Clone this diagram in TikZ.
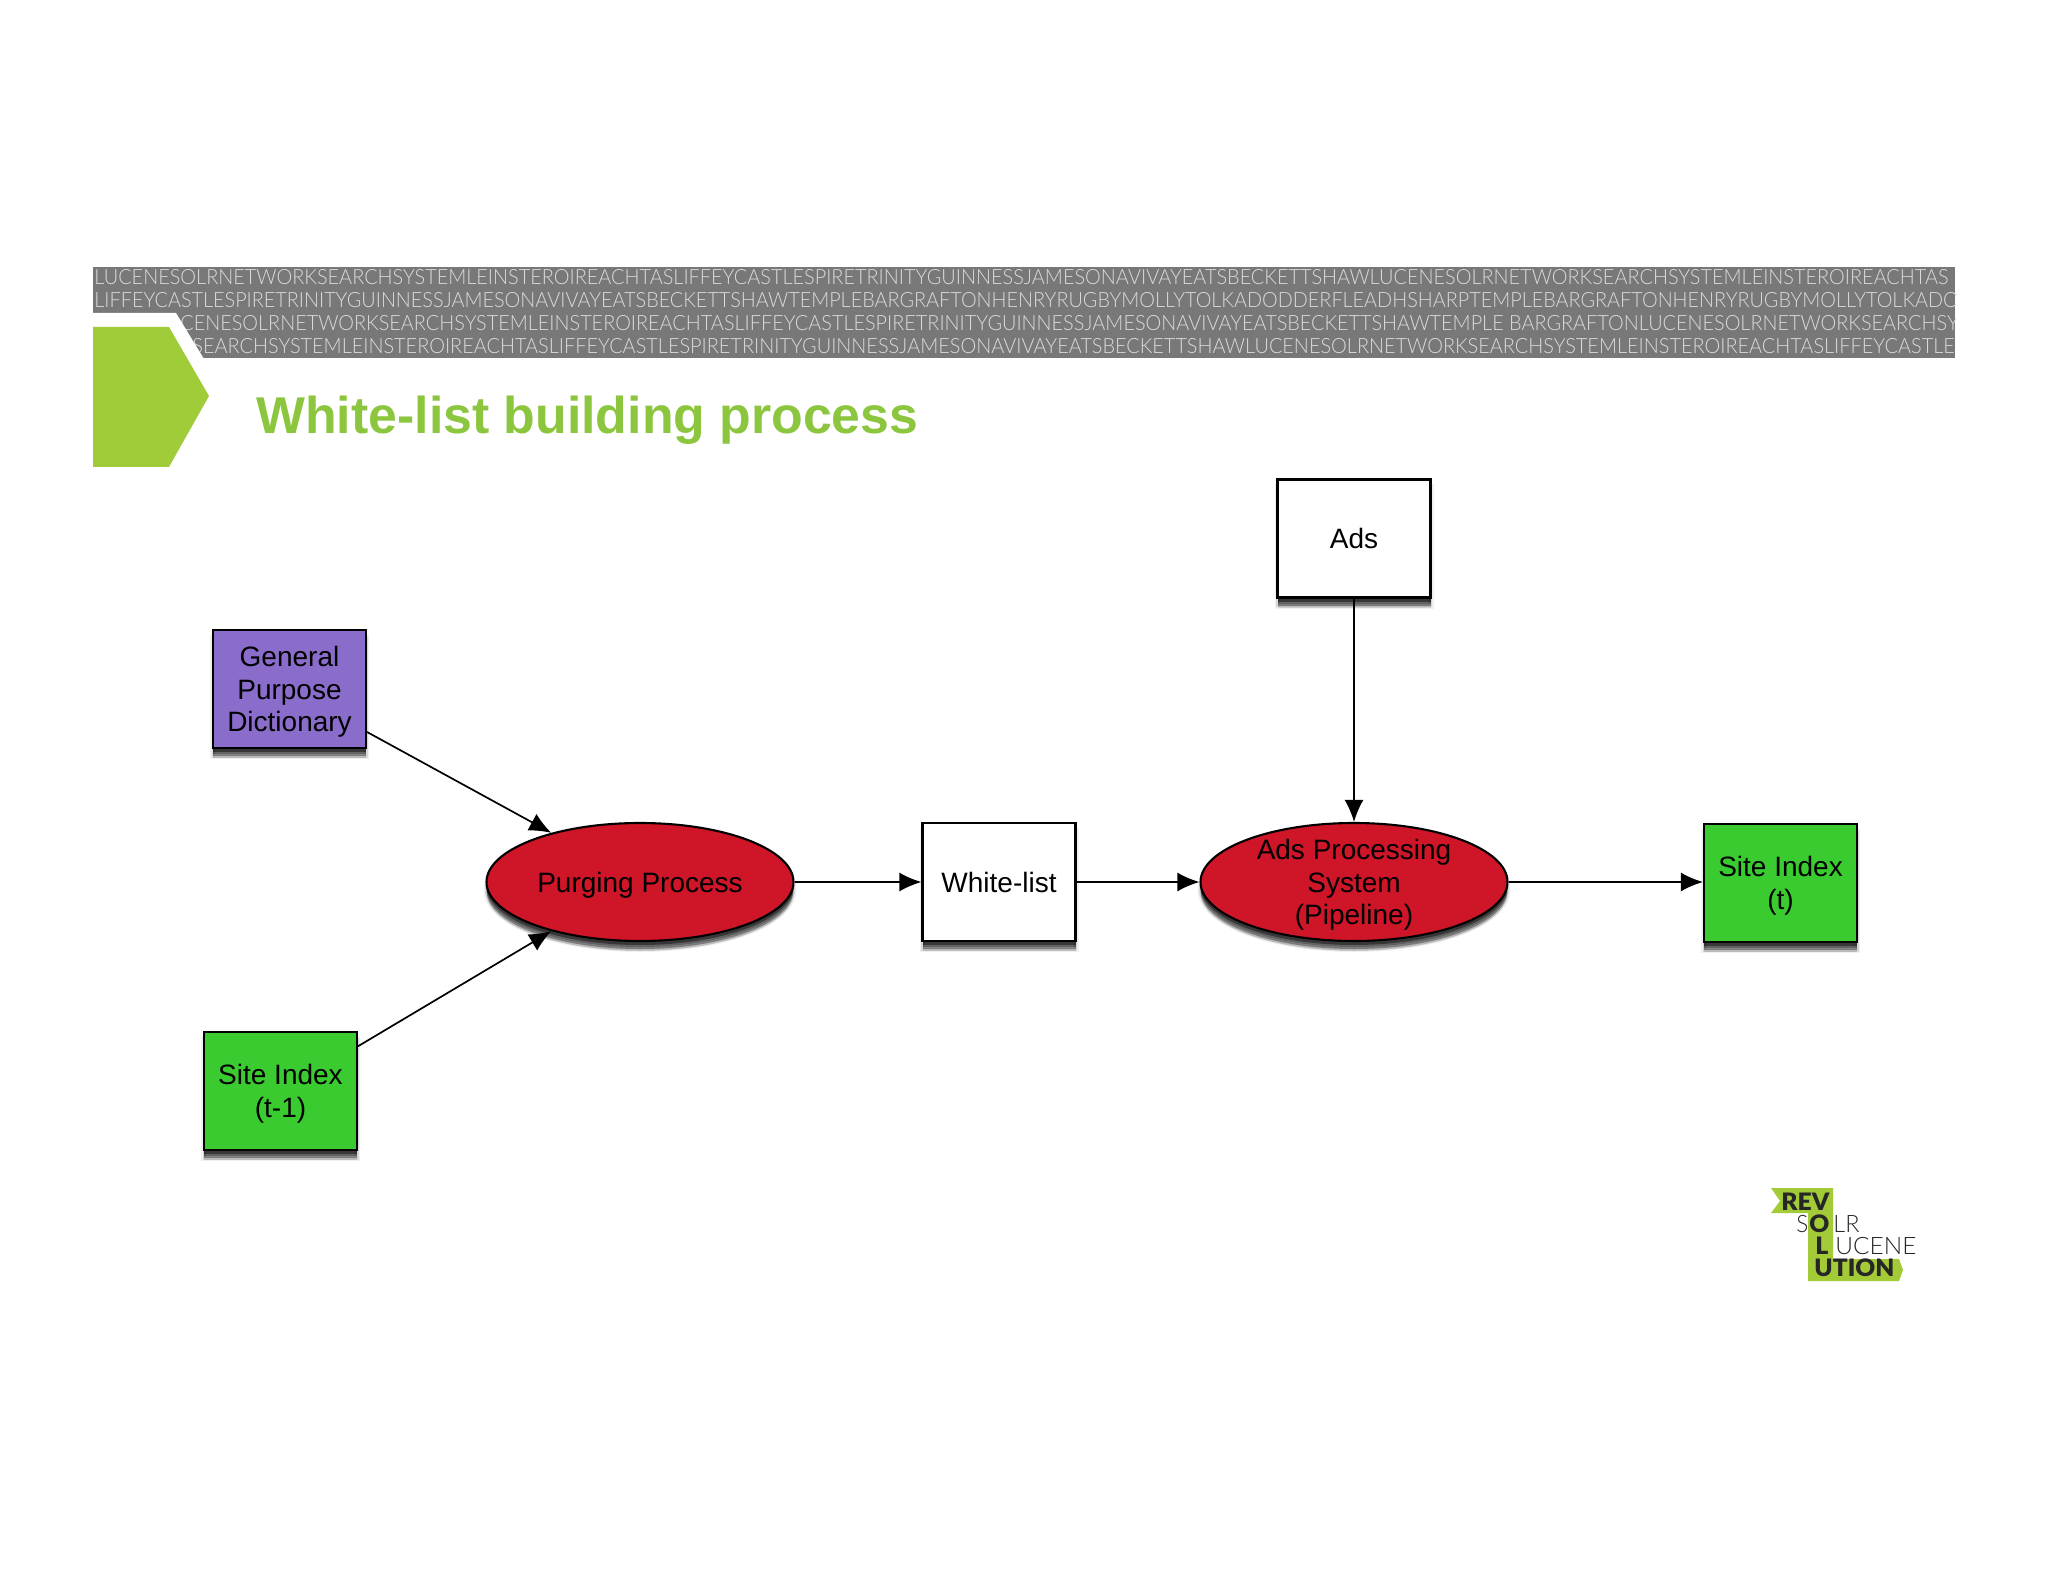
\documentclass[tikz,border=0pt]{standalone}
\usepackage{fontspec}
\usepackage{graphicx}
\setmainfont{Liberation Sans}
\newfontfamily\bandfont{Lato}[UprightFont=* Light]
\newfontfamily\logobold{Lato}[UprightFont=* Black]
\usetikzlibrary{arrows.meta,shapes.geometric}
\definecolor{bandgray}{HTML}{787878}
\definecolor{bandtext}{HTML}{DADADA}
\definecolor{chev}{HTML}{A0CC3A}
\definecolor{titlegreen}{HTML}{8CC63F}
\definecolor{boxgreen}{HTML}{39CB2F}
\definecolor{boxpurple}{HTML}{8A6DCB}
\definecolor{boxred}{HTML}{CE1628}
\definecolor{logogreen}{HTML}{A3CB38}
\newcommand\lift[1]{\raisebox{-5.4pt}[0pt][0pt]{\begin{tabular}{@{}c@{}}#1\end{tabular}}}
\tikzset{
  x=0.5pt,y=-0.5pt,
  softshadow/.style={
    preaction={draw=black,line width=3pt,fill=black,opacity=.06,transform canvas={yshift=-4pt}},
    preaction={draw=black,line width=1.5pt,fill=black,opacity=.1,transform canvas={yshift=-4pt}},
    preaction={draw=none,fill=black,opacity=.14,transform canvas={yshift=-5pt}},
    preaction={draw=none,fill=black,opacity=.22,transform canvas={yshift=-4pt}},
    preaction={draw=none,fill=black,opacity=.3,transform canvas={yshift=-3pt}},
    preaction={draw=none,fill=black,opacity=.45,transform canvas={yshift=-2pt}}},
  flowbox/.style={rectangle,draw=black,line width=1.05pt,minimum width=76.5pt,minimum height=59pt,
    inner sep=0pt,font=\fontsize{14}{16.3}\selectfont,softshadow},
  flowell/.style={ellipse,draw=black,line width=1.05pt,fill=boxred,minimum width=153.5pt,minimum height=59pt,
    inner sep=0pt,font=\fontsize{14}{16.3}\selectfont,softshadow},
  flow/.style={draw=black,line width=.85pt,-{Latex[length=11pt,width=9.5pt]}},
  bandline/.style={anchor=base west,inner sep=0pt,text=bandtext,font=\bandfont\fontsize{10.5}{10.5}\selectfont},
  logol/.style={anchor=base west,inner sep=0pt,text=black!85,font=\bandfont\fontsize{12}{12}\selectfont},
  logob/.style={anchor=base west,inner sep=0pt,text=black!85,font=\logobold\fontsize{12}{12}\selectfont}
}
\begin{document}
\begin{tikzpicture}
\useasboundingbox (0,0) rectangle (2048,1582);
% header band
\fill[bandgray] (93,267) rectangle (1955,358);
\begin{scope}
\clip (93,267) rectangle (1955,358);
\node[bandline] (l1) at (94,285) {\resizebox{927pt}{\height}{LUCENESOLRNETWORKSEARCHSYSTEMLEINSTEROIREACHTASLIFFEYCASTLESPIRETRINITYGUINNESSJAMESONAVIVAYEATSBECKETTSHAWLUCENESOLRNETWORKSEARCHSYSTEMLEINSTEROIREACHTAS}};
\node[bandline] (l2) at (94,307.5) {\resizebox{932pt}{\height}{LIFFEYCASTLESPIRETRINITYGUINNESSJAMESONAVIVAYEATSBECKETTSHAWTEMPLEBARGRAFTONHENRYRUGBYMOLLYTOLKADODDERFLEADHSHARPTEMPLEBARGRAFTONHENRYRUGBYMOLLYTOLKADO}};
\node[bandline] (l3) at (180,331) {\resizebox{889pt}{\height}{CENESOLRNETWORKSEARCHSYSTEMLEINSTEROIREACHTASLIFFEYCASTLESPIRETRINITYGUINNESSJAMESONAVIVAYEATSBECKETTSHAWTEMPLE BARGRAFTONLUCENESOLRNETWORKSEARCHSY}};
\node[bandline] (l4) at (192,353.5) {\resizebox{881pt}{\height}{SEARCHSYSTEMLEINSTEROIREACHTASLIFFEYCASTLESPIRETRINITYGUINNESSJAMESONAVIVAYEATSBECKETTSHAWLUCENESOLRNETWORKSEARCHSYSTEMLEINSTEROIREACHTASLIFFEYCASTLE}};
\end{scope}
\fill[white] (92,313) -- (176,313) -- (204,359) -- (92,359) -- cycle;
% chevron
\fill[chev] (93,327) -- (169,327) -- (209,396) -- (169,467) -- (93,467) -- cycle;
% title
\node[anchor=base west,inner sep=0pt,text=titlegreen,font=\bfseries\fontsize{25.9}{25.9}\selectfont] (title) at (256,434) {White-list building process};
% diagram
\node[flowbox,fill=white] (ads) at (1354,538.5) {\lift{Ads}};
\node[flowbox,fill=boxpurple] (gpd) at (289.5,689) {\lift{General\\Purpose\\Dictionary}};
\node[flowbox,fill=boxgreen] (sprev) at (280.5,1091) {\lift{Site Index\\(t-1)}};
\node[flowell] (purge) at (640,882) {\lift{Purging Process}};
\node[flowbox,fill=white] (wl) at (999,882) {\lift{White-list}};
\node[flowell] (apipe) at (1354,882) {\lift{Ads Processing\\System\\(Pipeline)}};
\node[flowbox,fill=boxgreen] (scur) at (1780.5,883) {\lift{Site Index\\(t)}};
\draw[flow] (gpd.-29.3) -- (purge.151);
\draw[flow] (sprev.30) -- (purge.209);
\draw[flow] (purge) -- (wl);
\draw[flow] (wl) -- (apipe);
\draw[flow] (apipe) -- (scur.west |- apipe);
\draw[flow] (ads) -- (apipe);
% logo
\fill[logogreen] (1771,1188) -- (1780,1201) -- (1771,1213) -- (1808,1213) -- (1808,1281) -- (1899,1281) -- (1903,1270) -- (1899,1259) -- (1833,1259) -- (1833,1188) -- cycle;
\node[logob] (rev) at (1781,1210) {\resizebox{24pt}{\height}{REV}};
\node[logol] (so) at (1796,1232) {\resizebox{6pt}{\height}{S}};
\node[logob] (oo) at (1809,1232) {\resizebox{10pt}{\height}{O}};
\node[logol] (lr) at (1833,1232) {\resizebox{13pt}{\height}{LR}};
\node[logob] (ll) at (1815,1254) {\resizebox{6.5pt}{\height}{L}};
\node[logol] (uc) at (1835,1254) {\resizebox{40.5pt}{\height}{UCENE}};
\node[logob] (ut) at (1814,1276) {\resizebox{40pt}{\height}{UTION}};
\end{tikzpicture}
\end{document}
